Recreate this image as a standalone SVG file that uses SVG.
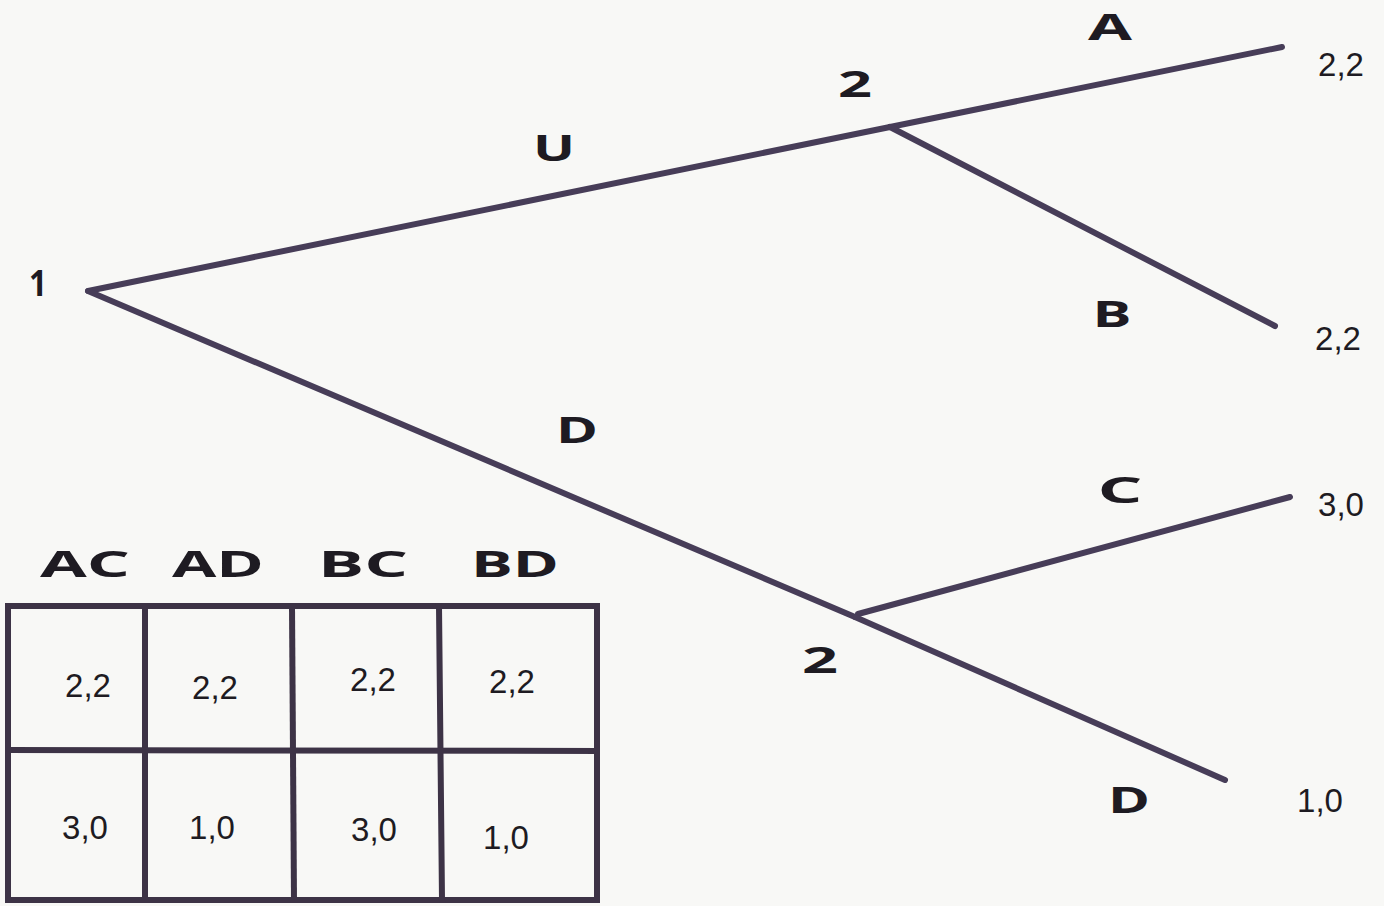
<svg xmlns="http://www.w3.org/2000/svg" width="1384" height="906" viewBox="0 0 1384 906">
<style>
.edge{stroke:#473d58;stroke-width:6;stroke-linecap:round;fill:none}
.grid{stroke:#3d3346;stroke-width:6;fill:none;stroke-linecap:square}
.lbl{font-family:"Open Sans","DejaVu Sans",sans-serif;font-weight:700;font-size:36px;fill:#1e1b22;text-anchor:middle}
.pay{font-family:"Liberation Sans",Arial,sans-serif;font-size:33px;fill:#1e1b22;text-anchor:middle}
</style>
<rect width="1384" height="906" fill="#f8f8f6"/>
<g id="connectors">
<line class="edge" x1="88" y1="291" x2="890" y2="127"/>
<line class="edge" x1="88" y1="291" x2="855" y2="617"/>
<line class="edge" x1="890" y1="127" x2="1282" y2="47"/>
<line class="edge" x1="890" y1="127" x2="1275" y2="326"/>
<line class="edge" x1="858" y1="614" x2="1290" y2="497"/>
<line class="edge" x1="855" y1="617" x2="1225" y2="780"/>
</g>
<g id="node-1"><text class="lbl" x="38" y="296" textLength="18" lengthAdjust="spacingAndGlyphs">1</text></g>
<g id="node-2-top"><text class="lbl" x="855" y="97" textLength="34" lengthAdjust="spacingAndGlyphs">2</text></g>
<g id="node-2-bottom"><text class="lbl" x="820" y="673" textLength="36" lengthAdjust="spacingAndGlyphs">2</text></g>
<g id="edge-labels">
<text class="lbl" x="554" y="161" textLength="42" lengthAdjust="spacingAndGlyphs">U</text>
<text class="lbl" x="577" y="443" textLength="42" lengthAdjust="spacingAndGlyphs">D</text>
<text class="lbl" x="1110" y="40" textLength="44" lengthAdjust="spacingAndGlyphs">A</text>
<text class="lbl" x="1112" y="327" textLength="39" lengthAdjust="spacingAndGlyphs">B</text>
<text class="lbl" x="1120" y="503" textLength="45" lengthAdjust="spacingAndGlyphs">C</text>
<text class="lbl" x="1129" y="813" textLength="42" lengthAdjust="spacingAndGlyphs">D</text>
</g>
<g id="payoffs">
<text class="pay" x="1341" y="76">2,2</text>
<text class="pay" x="1338" y="350">2,2</text>
<text class="pay" x="1341" y="516">3,0</text>
<text class="pay" x="1320" y="812">1,0</text>
</g>
<g id="table">
<rect class="grid" x="8" y="606" width="589" height="294"/>
<line class="grid" x1="145" y1="606" x2="145" y2="900"/>
<line class="grid" x1="292" y1="606" x2="294" y2="900"/>
<line class="grid" x1="439" y1="606" x2="442" y2="900"/>
<line class="grid" x1="8" y1="750" x2="597" y2="751"/>
<text class="lbl" x="85" y="577" textLength="90" lengthAdjust="spacingAndGlyphs">AC</text>
<text class="lbl" x="218" y="577" textLength="92" lengthAdjust="spacingAndGlyphs">AD</text>
<text class="lbl" x="363" y="577" textLength="90" lengthAdjust="spacingAndGlyphs">BC</text>
<text class="lbl" x="515" y="577" textLength="88" lengthAdjust="spacingAndGlyphs">BD</text>
<text class="pay" x="88" y="697">2,2</text>
<text class="pay" x="215" y="699">2,2</text>
<text class="pay" x="373" y="691">2,2</text>
<text class="pay" x="512" y="693">2,2</text>
<text class="pay" x="85" y="839">3,0</text>
<text class="pay" x="212" y="839">1,0</text>
<text class="pay" x="374" y="841">3,0</text>
<text class="pay" x="506" y="849">1,0</text>
</g>
</svg>
